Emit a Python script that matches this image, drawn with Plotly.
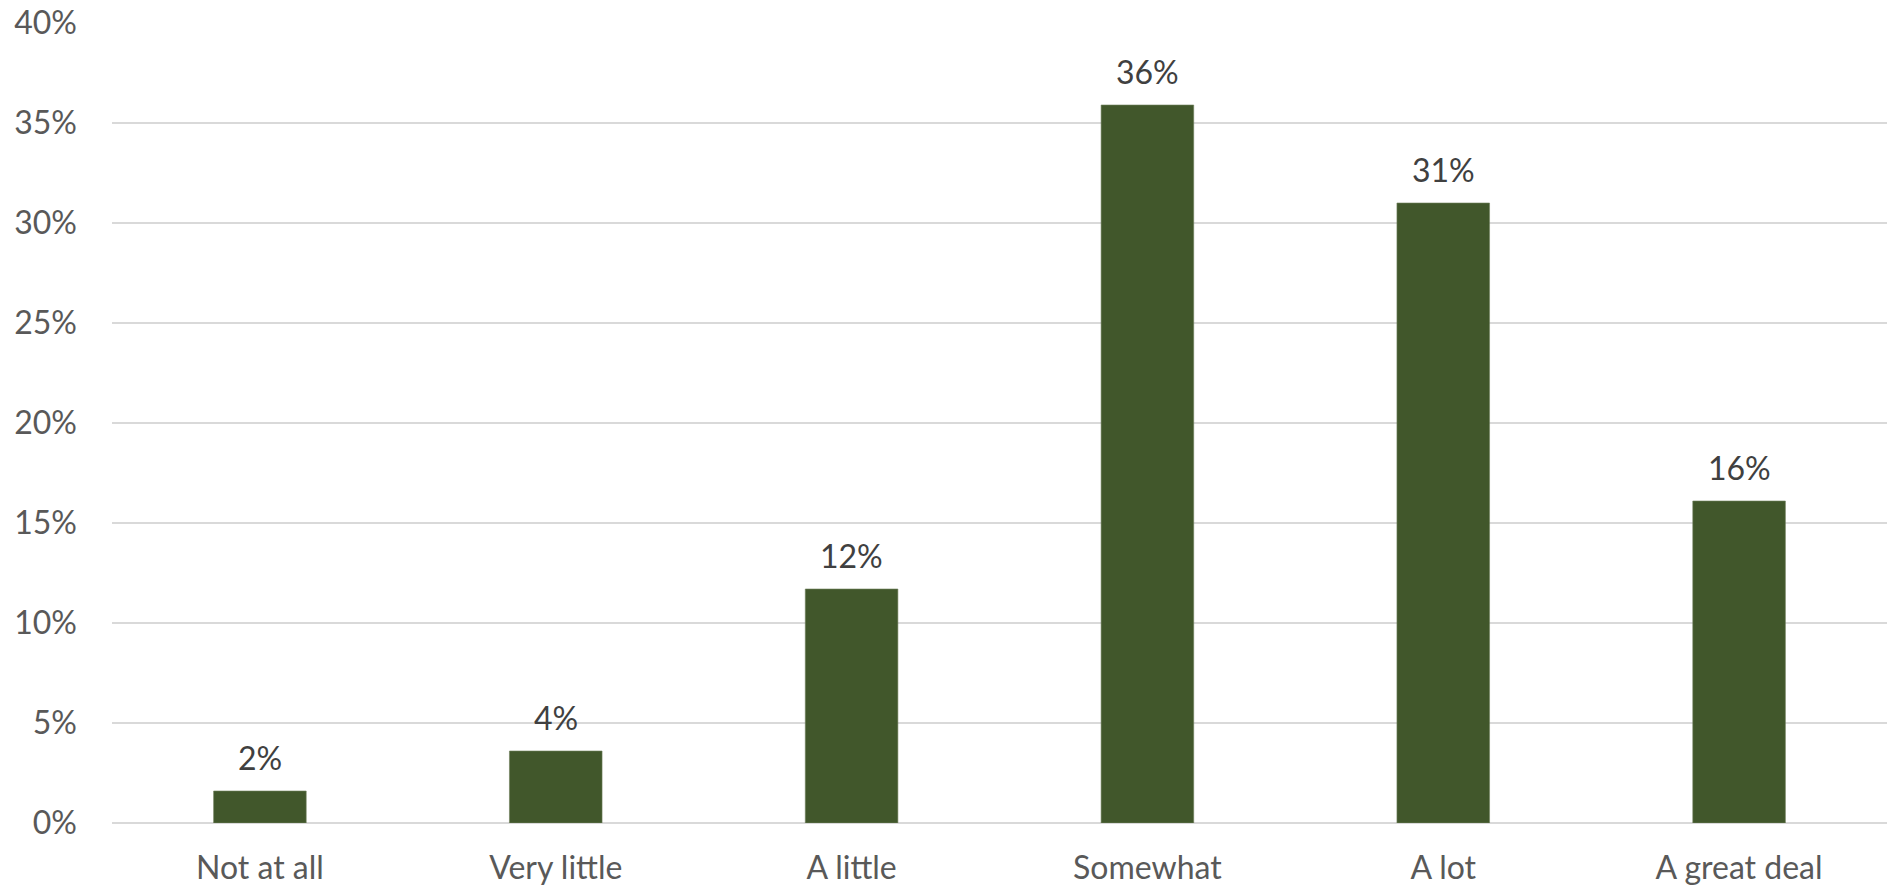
import plotly.graph_objects as go

# Survey responses and their shares (percent)
categories = ["Not at all", "Very little", "A little", "Somewhat", "A lot", "A great deal"]
shares = [1.6, 3.6, 11.7, 35.9, 31.0, 16.1]
y_ticks = [0, 5, 10, 15, 20, 25, 30, 35, 40]
y_tick_labels = [f"{t}%" for t in y_ticks]

BAR_COLOR = "#41572B"
GRID_COLOR = "#D9D9D9"
FONT = "Lato, 'Open Sans', sans-serif"

fig = go.Figure(
    go.Bar(
        x=categories,
        y=shares,
        marker=dict(color=BAR_COLOR, line=dict(color="#6E7F5C", width=0.6)),
        hoverinfo="skip",
    )
)

# Value labels above each bar
for cat, val in zip(categories, shares):
    fig.add_annotation(
        x=cat, y=val, text=f"{val:.0f}%",
        showarrow=False, yanchor="bottom", yshift=12,
        font=dict(family=FONT, size=32, color="#404040"),
    )

fig.update_layout(
    width=1890, height=890,
    margin=dict(l=112, r=3, t=23, b=67, autoexpand=False),
    paper_bgcolor="white", plot_bgcolor="white",
    bargap=0.687,
    showlegend=False,
    font=dict(family=FONT, size=32, color="#595959"),
)
fig.update_xaxes(
    automargin=False,
    showgrid=False, showline=False, zeroline=False,
    ticks="", ticklabelstandoff=23,
    tickfont=dict(family=FONT, size=32, color="#595959"),
)
fig.update_yaxes(
    automargin=False,
    range=[0, 40], tickvals=y_ticks, ticktext=y_tick_labels,
    showgrid=True, gridcolor=GRID_COLOR, gridwidth=2,
    zeroline=True, zerolinecolor=GRID_COLOR, zerolinewidth=2,
    showline=False, ticks="", ticklabelstandoff=34,
    tickfont=dict(family=FONT, size=32, color="#595959"),
)

fig.write_html("out.html")
